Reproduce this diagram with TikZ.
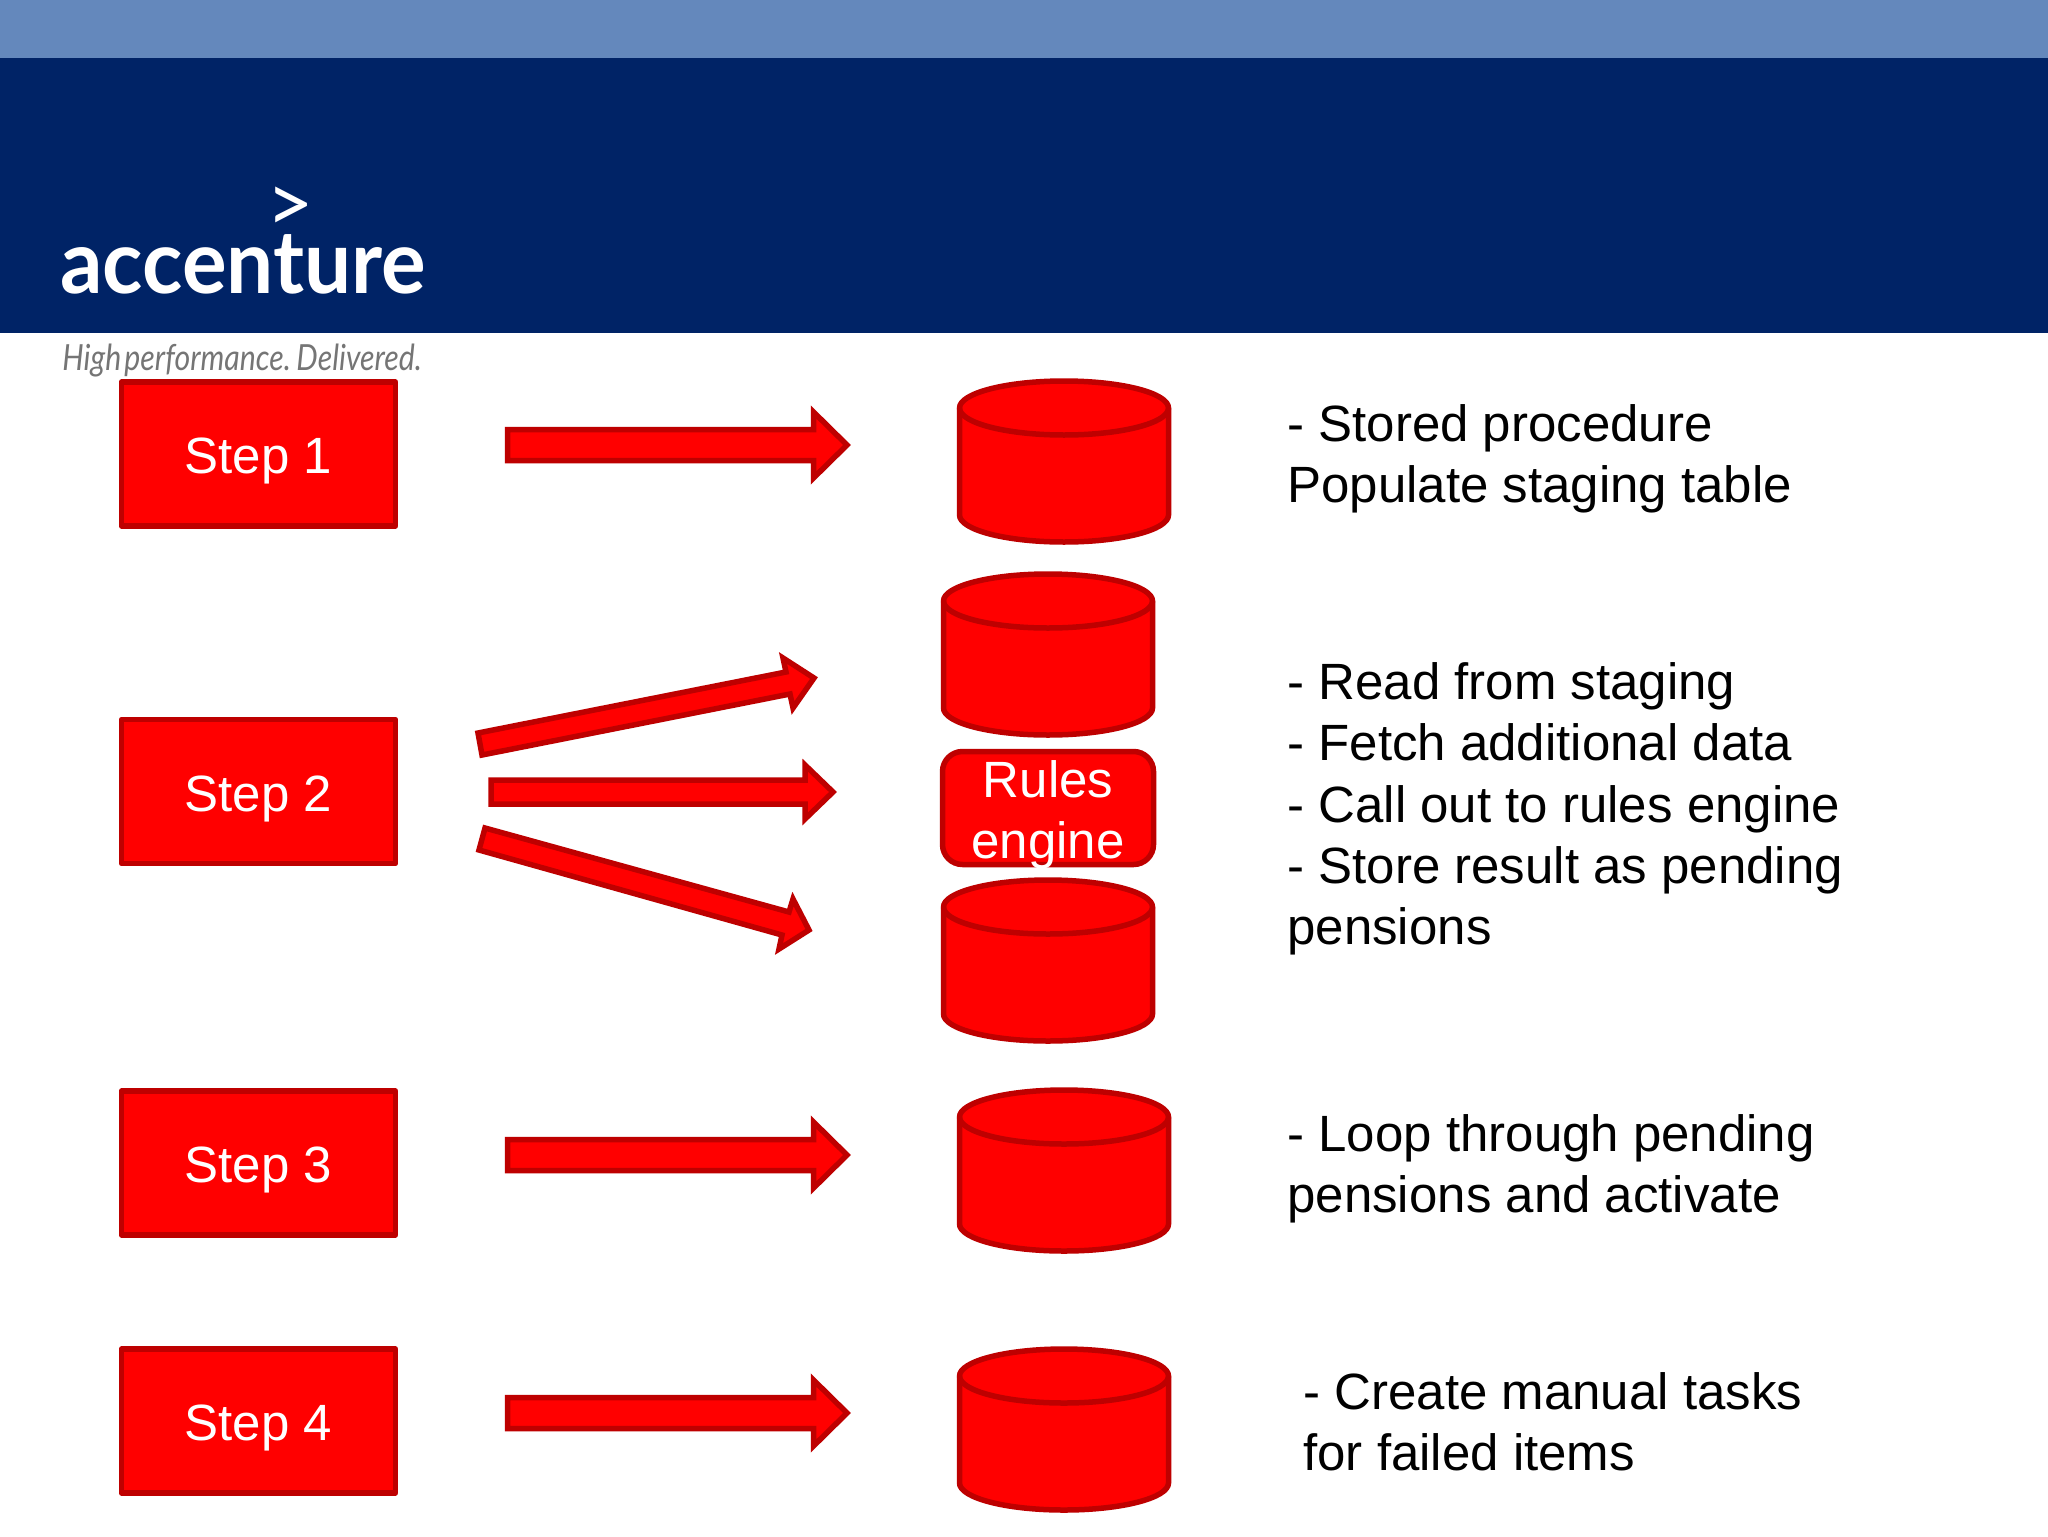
\documentclass[tikz,border=0pt]{standalone}
\usepackage{fontspec}
\setmainfont{Liberation Sans}
\newfontfamily\logofont{Lato}
\newfontfamily\tagfont[WordSpace=0.45]{Lato}
\definecolor{bandlight}{HTML}{6488BC}
\definecolor{bandnavy}{HTML}{002366}
\definecolor{shapefill}{HTML}{FF0000}
\definecolor{shapeline}{HTML}{BE0000}
\definecolor{taggrey}{HTML}{757575}
\tikzset{
  shapeln/.style={draw=shapeline,fill=shapefill,line width=2.75pt,line join=miter},
  stepbox/.style={shapeln,rectangle,line join=round,minimum width=137pt,minimum height=72pt,inner sep=0pt,text=white,text height=25.1pt,text depth=5.4pt,font=\fontsize{25.5}{30.6}\selectfont},
  rulesbox/.style={shapeln,rectangle,rounded corners=10pt,minimum width=105.5pt,minimum height=56.5pt,inner sep=0pt},
  rulestext/.style={inner sep=0pt,text=white,align=center,font=\fontsize{25.5}{30.6}\selectfont},
  bodytext/.style={anchor=north west,inner sep=0pt,align=left,text=black,font=\fontsize{25.5}{30.7}\selectfont},
  dbcyl/.pic={
    \path[shapeln] (0,27) .. controls (0,12.1) and (46.8,0) .. (104.5,0)
      .. controls (162.2,0) and (209,12.1) .. (209,27) -- (209,134)
      .. controls (209,148.9) and (162.2,161) .. (104.5,161)
      .. controls (46.8,161) and (0,148.9) .. (0,134) -- cycle;
    \path[draw=shapeline,line width=2.75pt] (0,27) .. controls (0,41.9) and (46.8,54) .. (104.5,54)
      .. controls (162.2,54) and (209,41.9) .. (209,27);
  }
}
\newcommand{\blockarrow}[1]{%
  \path[shapeln] (505+2.5,#1-15.5) -- (811+2.5,#1-15.5) -- (811+2.5,#1-33) -- (847,#1) -- (811+2.5,#1+33) -- (811+2.5,#1+15.5) -- (505+2.5,#1+15.5) -- cycle;}
\begin{document}
\begin{tikzpicture}[x=0.5pt,y=-0.5pt]
\useasboundingbox (0,0) rectangle (2048,1536);
\fill[white] (0,0) rectangle (2048,1536);
\fill[bandnavy] (0,0) rectangle (2048,333);
\fill[bandlight] (0,0) rectangle (2048,58);
% logo
\node[anchor=base west,inner sep=0pt,text=white] (logoword) at (60,293)
  {\scalebox{0.95}[1.0]{\logofont\fontsize{44}{44}\selectfont\bfseries accenture}};
\node[anchor=center,inner sep=0pt,text=white] (logomark) at (290,210)
  {\logofont\fontsize{41}{41}\selectfont >};
\node[anchor=base west,inner sep=0pt,text=taggrey] (tagline) at (62,370)
  {\scalebox{0.84}[1.0]{\tagfont\fontsize{18}{18}\selectfont\itshape High performance. Delivered.}};
% steps
\node[stepbox] (s1) at (258.5,454) {Step 1};
\node[stepbox] (s2) at (258.5,791.5) {Step 2};
\node[stepbox] (s3) at (258.5,1163) {Step 3};
\node[stepbox] (s4) at (258.5,1421) {Step 4};
% arrows
\blockarrow{445}
\blockarrow{1155}
\blockarrow{1413}
\path[shapeln] (491,780) -- (805,780) -- (805,765) -- (833,792) -- (805,819) -- (805,804) -- (491,804) -- cycle;
\path[shapeln] (478,733) -- (786,672) -- (783,658) -- (814,678) -- (793,708) -- (790,694) -- (482,755) -- cycle;
\path[shapeln] (485,828) -- (789,912) -- (793,899) -- (809,930) -- (779,949) -- (782,935) -- (479,850) -- cycle;
% cylinders
\pic at (959.5,381) {dbcyl};
\pic at (943.5,574) {dbcyl};
\pic at (943.5,880) {dbcyl};
\pic at (959.5,1090) {dbcyl};
\pic at (959.5,1349) {dbcyl};
\node[rulesbox] (rules) at (1048,808) {};
\node[rulestext,yshift=-3.25pt] (rulestext) at (rules.center) {Rules\\engine};
% texts
\node[bodytext] (t1) at (1287,404) {- Stored procedure\\Populate staging table};
\node[bodytext] (t2) at (1287,662) {- Read from staging\\- Fetch additional data\\- Call out to rules engine\\- Store result as pending\\pensions};
\node[bodytext] (t3) at (1287,1114) {- Loop through pending\\pensions and activate};
\node[bodytext] (t4) at (1303,1372) {- Create manual tasks\\for failed items};
\end{tikzpicture}
\end{document}
